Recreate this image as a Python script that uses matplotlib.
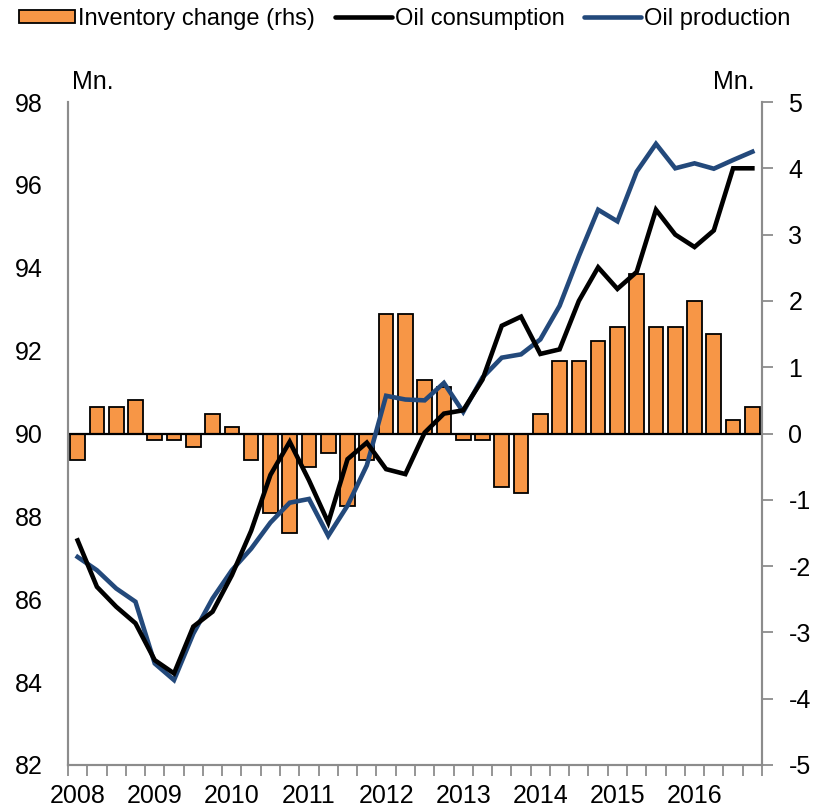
import matplotlib
matplotlib.use("Agg")
import matplotlib.pyplot as plt
import numpy as np
from matplotlib.patches import Patch
from matplotlib.lines import Line2D

plt.rcParams['font.family'] = ['Liberation Sans', 'DejaVu Sans']

years = ['2008', '2009', '2010', '2011', '2012', '2013', '2014', '2015', '2016']
quarters_per_year = 4

inventory = [-0.4, 0.4, 0.4, 0.5, -0.1, -0.1, -0.2, 0.3, 0.1, -0.4, -1.2, -1.5,
             -0.5, -0.3, -1.1, -0.4, 1.8, 1.8, 0.8, 0.7, -0.1, -0.1, -0.8, -0.9,
             0.3, 1.1, 1.1, 1.4, 1.6, 2.4, 1.6, 1.6, 2.0, 1.5, 0.2, 0.4]

consumption = [87.42, 86.30, 85.82, 85.42, 84.53, 84.21, 85.34, 85.70, 86.58, 87.65,
               89.00, 89.80, 88.87, 87.85, 89.38, 89.78, 89.14, 89.02, 90.02, 90.48,
               90.56, 91.30, 92.60, 92.82, 91.92, 92.03, 93.20, 94.01, 93.49, 93.90,
               95.40, 94.80, 94.50, 94.90, 96.40, 96.40]

production = [87.02, 86.70, 86.26, 85.94, 84.45, 84.05, 85.17, 86.02, 86.70, 87.22,
              87.85, 88.33, 88.42, 87.53, 88.26, 89.23, 90.91, 90.82, 90.80, 91.22,
              90.52, 91.35, 91.83, 91.91, 92.27, 93.08, 94.28, 95.40, 95.12, 96.32,
              96.99, 96.40, 96.52, 96.39, 96.60, 96.80]

left_ticks = [82, 84, 86, 88, 90, 92, 94, 96, 98]
right_ticks = [-5, -4, -3, -2, -1, 0, 1, 2, 3, 4, 5]

ORANGE = '#F79646'
BLUE = '#23497B'
GRAY = '#8C8C8C'
FS = 18

W, H = 817, 811
fig = plt.figure(figsize=(W / 100, H / 100), dpi=100)
ax = fig.add_axes([68 / W, 1 - 765 / H, (762 - 68) / W, (765 - 102) / H])
ax2 = ax.twinx()

n = len(inventory)
x = np.arange(n)

# bars on secondary axis
ax2.bar(x, inventory, width=0.76, color=ORANGE, edgecolor='black', linewidth=1.3, zorder=2)
ax2.axhline(0, color='black', lw=1.6, zorder=3)
ax2.set_ylim(-5, 5)
ax2.set_yticks(right_ticks)
ax2.set_yticklabels([str(t) for t in right_ticks], fontsize=FS)
ax2.tick_params(axis='y', length=8, width=1.3, color=GRAY, pad=11, direction='out')

# lines on primary axis
ax.set_zorder(ax2.get_zorder() + 1)
ax.patch.set_visible(False)
ax.plot(x, production, color=BLUE, lw=3.3, solid_joinstyle='miter', zorder=4)
ax.plot(x, consumption, color='black', lw=3.3, solid_joinstyle='miter', zorder=5)
ax.set_ylim(82, 98)
ax.set_yticks(left_ticks)
ax.set_yticklabels([str(t) for t in left_ticks], fontsize=FS)
ax.tick_params(axis='y', length=0, pad=18)

ax.set_xlim(-0.5, n - 0.5)
ax.set_xticks(np.arange(-0.5, n, 1.0))
ax.set_xticklabels([])
ax.tick_params(axis='x', which='major', length=8, width=1.3, color=GRAY, direction='out')
ax.set_xticks(np.arange(0, n, quarters_per_year), minor=True)
ax.set_xticklabels(years, minor=True, fontsize=FS)
ax.tick_params(axis='x', which='minor', length=0, pad=14)

for a in (ax, ax2):
    a.spines['top'].set_visible(False)
    for s in ('left', 'right', 'bottom'):
        a.spines[s].set_color(GRAY)
        a.spines[s].set_linewidth(1.5)

fig.text(72 / W, 1 - 89 / H, 'Mn.', fontsize=FS, ha='left', va='baseline')
fig.text(755 / W, 1 - 89 / H, 'Mn.', fontsize=FS, ha='right', va='baseline')

handles = [Patch(facecolor=ORANGE, edgecolor='black', linewidth=1.3),
           Line2D([], [], color='black', lw=3.3, solid_capstyle='round'),
           Line2D([], [], color=BLUE, lw=3.3, solid_capstyle='round')]
labels = ['Inventory change (rhs)', 'Oil consumption', 'Oil production']
fig.legend(handles, labels, loc='center', bbox_to_anchor=(0.495, 1 - 19 / H), ncol=3,
           frameon=False, fontsize=17, handlelength=2.4, handleheight=0.5,
           handletextpad=0.12, columnspacing=0.85, borderpad=0, borderaxespad=0)

fig.savefig('out.png', dpi=100)
